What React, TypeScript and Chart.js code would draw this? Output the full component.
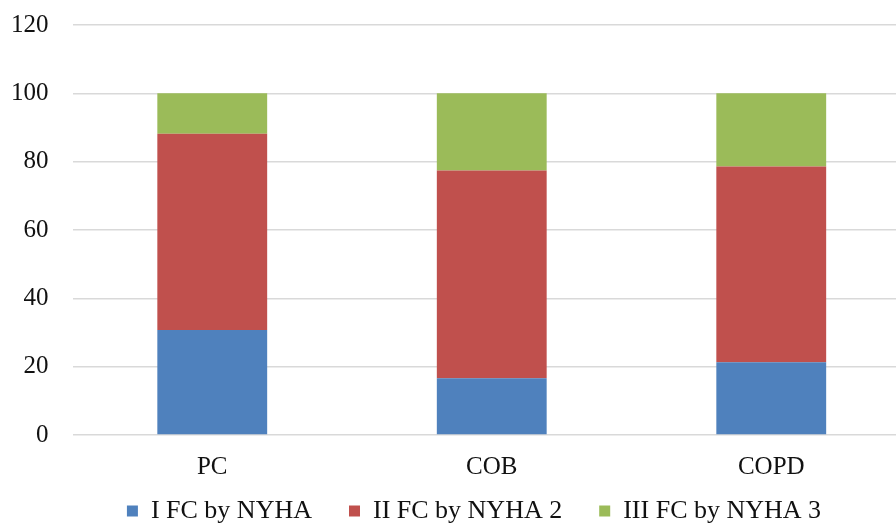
import React, { useEffect, useRef } from "react";
import { Chart, registerables } from "chart.js";

Chart.register(...registerables);

const categories = ["PC", "COB", "COPD"];
const seriesNames = ["I FC by NYHA", "II FC by NYHA 2", "III FC by NYHA 3"];
const fc1 = [30.7, 16.6, 21.3];
const fc2 = [57.5, 60.8, 57.3];
const fc3 = [11.8, 22.6, 21.4];
const yTicks = [0, 20, 40, 60, 80, 100, 120];

const colors = ["#4F81BD", "#C0504D", "#9BBB59"];
const FONT = "'Liberation Serif', 'Times New Roman', serif";
const LEGEND_PAD = 37;
const LEGEND_FS = 26;

const legendShift = {
  id: "legendShift",
  afterLayout(chart: any) {
    const lg = chart.legend;
    if (lg) {
      const targetCenter = 511;
      lg.top = targetCenter - LEGEND_FS / 2 - LEGEND_PAD;
      lg.left += 13;
      lg.right += 13;
    }
  },
};

export default function App() {
  const ref = useRef<HTMLCanvasElement | null>(null);
  useEffect(() => {
    document.body.style.margin = "0";
    document.body.style.overflow = "hidden";
    const ctx = ref.current!;
    const chart = new Chart(ctx, {
      type: "bar",
      data: {
        labels: categories,
        datasets: [fc1, fc2, fc3].map((d, i) => ({
          label: seriesNames[i],
          data: d,
          backgroundColor: colors[i],
          borderWidth: 0,
          barPercentage: 0.393,
          categoryPercentage: 1,
        })),
      },
      plugins: [legendShift],
      options: {
        animation: false,
        responsive: false,
        maintainAspectRatio: false,
        layout: { padding: { top: 25, left: 11, right: 0, bottom: -1 } },
        plugins: {
          tooltip: { enabled: false },
          legend: {
            position: "bottom",
            maxHeight: 34,
            labels: {
              font: { family: FONT, size: LEGEND_FS },
              color: "#111",
              boxWidth: 11,
              boxHeight: 11,
              padding: LEGEND_PAD,
            },
          },
        },
        scales: {
          x: {
            stacked: true,
            grid: { display: false },
            border: { display: false },
            ticks: { font: { family: FONT, size: 25 }, color: "#111", padding: 9 },
          },
          y: {
            stacked: true,
            min: 0,
            max: 120,
            afterBuildTicks: (axis: any) => {
              axis.ticks = yTicks.map((v) => ({ value: v }));
            },
            grid: {
              color: "#d9d9d9",
              lineWidth: 1.5,
              drawTicks: true,
              tickLength: 24,
              tickColor: "rgba(0,0,0,0)",
            },
            border: { display: false },
            ticks: { font: { family: FONT, size: 25 }, color: "#111", padding: 0 },
          },
        },
      },
    });
    return () => chart.destroy();
  }, []);
  return (
    <div style={{ position: "absolute", left: 0, top: 0, width: 911, height: 524 }}>
      <canvas ref={ref} width={911} height={524} />
    </div>
  );
}
